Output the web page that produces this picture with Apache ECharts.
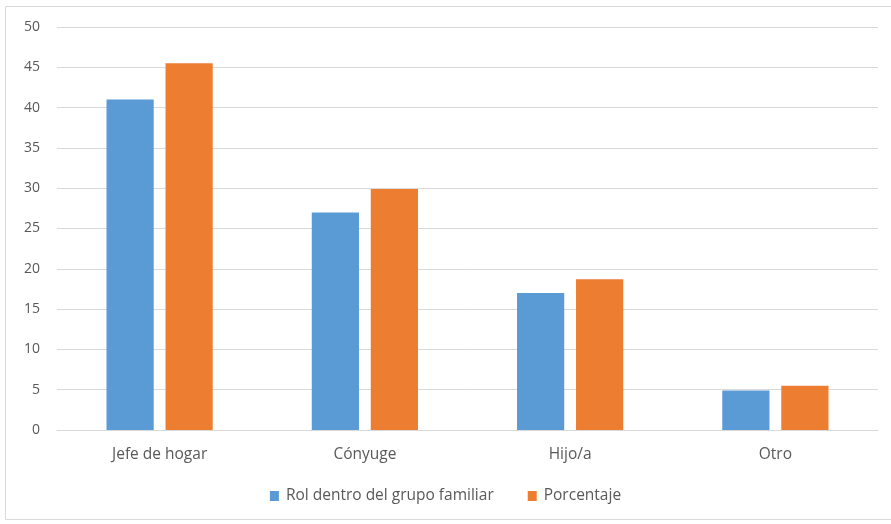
<!DOCTYPE html>
<html><head><meta charset="utf-8">
<script src="https://cdn.jsdelivr.net/npm/echarts@6/dist/echarts.min.js"></script>
<style>html,body{margin:0;padding:0;background:#fff}#c{width:891px;height:524px}</style>
</head><body><div id="c"></div>
<script>
const categories = ["Jefe de hogar", "Cónyuge", "Hijo/a", "Otro"];
const rolValues = [41, 27, 17, 4.9];
const porcentajeValues = [45.5, 29.9, 18.7, 5.5];
const seriesNames = ["Rol dentro del grupo familiar", "Porcentaje"];
const yTicks = [0, 50, 5];

const chart = echarts.init(document.getElementById('c'), null, {renderer: 'canvas'});
const font = "'Open Sans', 'Noto Sans', sans-serif";
chart.setOption({
  animation: false,
  graphic: [{type: 'rect', shape: {x: 5.5, y: 6.5, width: 900, height: 513}, style: {fill: 'none', stroke: '#d9d9d9', lineWidth: 1}, silent: true}],
  grid: {left: 57, right: 13, top: 27, bottom: 94, containLabel: false},
  legend: {
    bottom: 15, left: 'center', itemWidth: 9, itemHeight: 10, itemGap: 34,
    icon: 'rect',
    textStyle: {color: '#595959', fontSize: 15.5, fontFamily: font, padding: [0, 0, 0, 2]},
    data: seriesNames
  },
  xAxis: {
    type: 'category', data: categories,
    axisLine: {lineStyle: {color: '#d9d9d9'}}, axisTick: {show: false},
    axisLabel: {color: '#595959', fontSize: 15.5, fontFamily: font, margin: 17}
  },
  yAxis: {
    type: 'value', min: yTicks[0], max: yTicks[1], interval: yTicks[2],
    axisLine: {show: false}, axisTick: {show: false},
    splitLine: {lineStyle: {color: '#d9d9d9'}},
    axisLabel: {color: '#595959', fontSize: 14, fontFamily: font, margin: 17}
  },
  series: [
    {name: seriesNames[0], type: 'bar', data: rolValues, barWidth: '23%', barGap: '25%', itemStyle: {color: '#5b9bd5'}},
    {name: seriesNames[1], type: 'bar', data: porcentajeValues, barWidth: '23%', itemStyle: {color: '#ed7d31'}}
  ]
});
</script></body></html>
